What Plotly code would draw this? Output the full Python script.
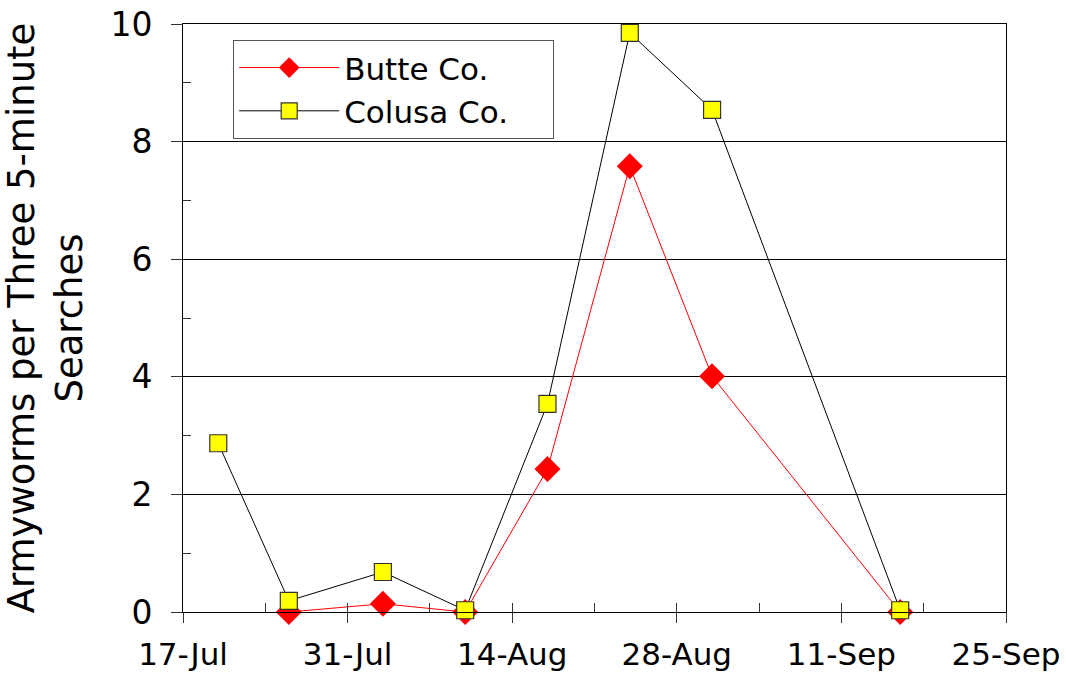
import plotly.graph_objects as go

butte_dates = ["2007-07-26", "2007-08-03", "2007-08-10", "2007-08-17", "2007-08-24", "2007-08-31", "2007-09-16"]
butte_vals = [0.0, 0.14, 0.0, 2.43, 7.58, 4.01, 0.0]
colusa_dates = ["2007-07-20", "2007-07-26", "2007-08-03", "2007-08-10", "2007-08-17", "2007-08-24", "2007-08-31", "2007-09-16"]
colusa_vals = [2.87, 0.19, 0.68, 0.03, 3.54, 9.85, 8.54, 0.03]
series_names = ["Butte Co.", "Colusa Co."]

x_range = ["2007-07-17", "2007-09-25"]
y_ticks = [0, 2, 4, 6, 8, 10]

FONT = "DejaVu Sans"
PAD = "\u00a0" * 4  # right padding inside the legend box

fig = go.Figure()
fig.add_trace(go.Scatter(
    x=butte_dates, y=butte_vals, name=series_names[0] + PAD, mode="lines+markers",
    line=dict(color="#ff0000", width=1),
    marker=dict(symbol="diamond", size=20, color="#ff0000", line=dict(width=0)),
    cliponaxis=False,
))
fig.add_trace(go.Scatter(
    x=colusa_dates, y=colusa_vals, name=series_names[1] + PAD, mode="lines+markers",
    line=dict(color="#000000", width=1),
    marker=dict(symbol="square", size=17, color="#ffff00", line=dict(width=1.2, color="#333333")),
    cliponaxis=False,
))
# invisible trace to carry the inside tick axis
fig.add_trace(go.Scatter(x=x_range, y=[0, 0], xaxis="x2", mode="lines",
                         line=dict(width=0), showlegend=False, hoverinfo="skip"))

fig.update_layout(
    width=1066, height=677,
    margin=dict(l=183, r=60, t=24, b=65, autoexpand=False),
    paper_bgcolor="white", plot_bgcolor="white",
    font=dict(family=FONT, color="black"),
    showlegend=True,
    legend=dict(
        x=0.061, y=0.973, xanchor="left", yanchor="top",
        bordercolor="#555555", borderwidth=1, bgcolor="white",
        font=dict(size=31, family=FONT),
        itemwidth=100,
        tracegroupgap=0,
    ),
    xaxis=dict(
        type="date", range=x_range, automargin=False,
        tickmode="linear", tick0="2007-07-17", dtick=14 * 86400000,
        tickformat="%-d-%b",
        ticks="outside", ticklen=10, tickwidth=1, tickcolor="#333333",
        tickfont=dict(size=31, family=FONT), ticklabelstandoff=5,
        ticklabeloverflow="allow",
        showline=True, linecolor="black", linewidth=1, mirror=True,
        showgrid=False, zeroline=False,
    ),
    xaxis2=dict(
        type="date", range=x_range, overlaying="x", matches="x", anchor="y",
        automargin=False,
        tickmode="linear", tick0="2007-07-17", dtick=7 * 86400000,
        ticks="inside", ticklen=9, tickwidth=1, tickcolor="#333333",
        showticklabels=False, showgrid=False, zeroline=False, showline=False,
        side="bottom",
    ),
    yaxis=dict(
        range=[0, 10], tickvals=y_ticks, automargin=False,
        ticks="outside", ticklen=11, tickwidth=1, tickcolor="#333333",
        tickfont=dict(size=33, family=FONT), ticklabelstandoff=12,
        ticklabeloverflow="allow",
        showline=True, linecolor="black", linewidth=1, mirror=True,
        showgrid=True, gridcolor="black", gridwidth=1,
        zeroline=False,
        minor=dict(tickvals=[1, 3, 5, 7, 9], ticks="inside", ticklen=8, tickcolor="#333333", showgrid=False),
        title=dict(text="Armyworms per Three 5-minute<br>Searches", font=dict(size=37, family=FONT), standoff=28),
    ),
)

fig.write_html("out.html", config={"displayModeBar": False},
               post_script="document.body.style.margin='0';")
